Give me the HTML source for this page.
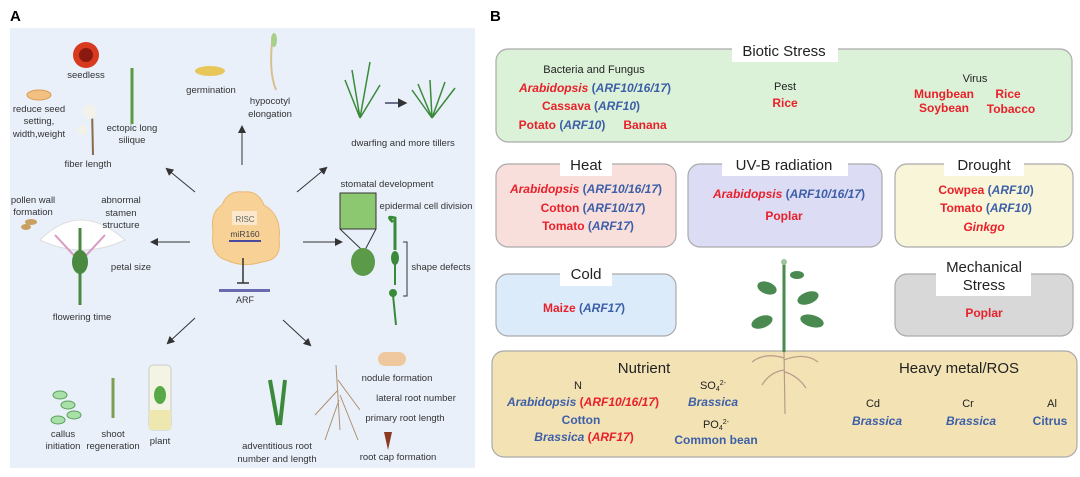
<!DOCTYPE html>
<html><head><meta charset="utf-8"><style>
html,body{margin:0;padding:0;background:#fff;}
svg{display:block;font-family:"Liberation Sans",sans-serif;}
.a{font-size:9.5px;fill:#333;text-anchor:middle;}
.t{font-size:15px;fill:#222;text-anchor:middle;}
.s{font-size:11px;fill:#222;text-anchor:middle;}
.r{font-size:12px;font-weight:bold;fill:#e8202a;text-anchor:middle;}
.b{font-size:12px;font-weight:bold;fill:#3c5fa8;text-anchor:middle;}
.bl{fill:#3c5fa8;}.rd{fill:#e8202a;}
</style></head><body>
<svg width="1080" height="477" viewBox="0 0 1080 477">
<defs><marker id="ar" markerWidth="8" markerHeight="8" refX="6" refY="4" orient="auto"><path d="M0,0 L8,4 L0,8 z" fill="#333"/></marker></defs>
<!-- Panel A -->
<text x="10" y="21" font-size="15" font-weight="bold">A</text>
<rect x="10" y="28" width="465" height="440" fill="#e9f0fa"/>
<!-- center -->
<path d="M222,205 Q228,190 243,192 Q258,190 264,205 Q282,215 279,240 Q282,260 262,262 Q243,268 226,260 Q210,255 213,232 Q210,212 222,205z" fill="#f7d196" stroke="#e8b870"/>
<rect x="232" y="211" width="25" height="14" fill="#fbe8cc"/>
<text x="245" y="222" font-size="8" fill="#666" text-anchor="middle">RISC</text>
<text x="245" y="237" font-size="8.5" fill="#444" text-anchor="middle">miR160</text>
<rect x="229" y="240" width="32" height="2" fill="#4a4aa0"/>
<line x1="243" y1="258" x2="243" y2="283" stroke="#333" stroke-width="1.5"/>
<line x1="237" y1="283" x2="249" y2="283" stroke="#333" stroke-width="1.5"/>
<rect x="219" y="289" width="51" height="3" fill="#6a6ab0"/>
<text x="245" y="303" font-size="9" fill="#333" text-anchor="middle">ARF</text>
<g stroke="#333" stroke-width="1" marker-end="url(#ar)">
<line x1="242" y1="165" x2="242" y2="127"/>
<line x1="195" y1="192" x2="167" y2="169"/>
<line x1="297" y1="192" x2="326" y2="168"/>
<line x1="190" y1="242" x2="152" y2="242"/>
<line x1="303" y1="242" x2="341" y2="242"/>
<line x1="195" y1="318" x2="168" y2="343"/>
<line x1="283" y1="320" x2="310" y2="345"/>
</g>
<!-- illustrations -->
<circle cx="86" cy="55" r="13" fill="#d83a20"/><circle cx="86" cy="55" r="7" fill="#8a1a10"/>
<ellipse cx="39" cy="95" rx="12" ry="5" fill="#f2c080" stroke="#d89a50"/>
<line x1="132" y1="68" x2="132" y2="124" stroke="#5a9a40" stroke-width="3"/>
<line x1="92" y1="108" x2="93" y2="155" stroke="#8a6a4a" stroke-width="2"/><circle cx="90" cy="112" r="7" fill="#f2f2ea"/><circle cx="82" cy="130" r="5" fill="#f2f2ea"/>
<ellipse cx="210" cy="71" rx="15" ry="5" fill="#e8c65a"/>
<path d="M273,35 Q268,70 276,90" stroke="#d8c090" stroke-width="2" fill="none"/><ellipse cx="274" cy="40" rx="3" ry="7" fill="#a8d08a"/>
<g stroke="#3a8a3a" stroke-width="1.5" fill="none"><path d="M360,118 L345,80 M360,118 L370,62 M360,118 L380,85 M360,118 L352,70"/><path d="M432,118 L412,90 M432,118 L430,80 M432,118 L455,88 M432,118 L445,82 M432,118 L418,84"/></g>
<line x1="385" y1="103" x2="405" y2="103" stroke="#224" stroke-width="1.2" marker-end="url(#ar)"/>
<rect x="340" y="193" width="36" height="36" fill="#8cc870" stroke="#333"/>
<path d="M340,229 L362,250 M376,229 L365,250" stroke="#333" fill="none"/>
<ellipse cx="363" cy="262" rx="12" ry="14" fill="#5a9a48"/>
<path d="M393,222 Q385,215 395,218 L395,250" stroke="#3a8a3a" stroke-width="3" fill="none"/>
<ellipse cx="395" cy="258" rx="4" ry="7" fill="#3a8a3a"/><line x1="395" y1="262" x2="395" y2="285" stroke="#3a8a3a" stroke-width="2"/>
<circle cx="393" cy="293" r="4" fill="#3a8a3a"/><line x1="393" y1="295" x2="396" y2="325" stroke="#3a8a3a" stroke-width="2"/>
<path d="M403,242 L407,242 L407,296 L403,296" stroke="#333" fill="none"/>
<path d="M40,240 Q80,200 125,240 Q82,260 40,240z" fill="#fff" stroke="#ddd"/>
<path d="M55,235 L80,262 L105,235" stroke="#d89ac0" fill="none" stroke-width="2"/>
<line x1="80" y1="228" x2="80" y2="305" stroke="#4a8a40" stroke-width="3"/><ellipse cx="80" cy="262" rx="8" ry="12" fill="#4a8a40"/>
<ellipse cx="31" cy="222" rx="6" ry="3" fill="#c8a060"/><ellipse cx="26" cy="227" rx="5" ry="3" fill="#c8a060"/>
<g fill="#a8e0a8" stroke="#5aa05a"><ellipse cx="60" cy="395" rx="7" ry="4"/><ellipse cx="68" cy="405" rx="7" ry="4"/><ellipse cx="74" cy="415" rx="7" ry="4"/><ellipse cx="58" cy="420" rx="7" ry="4"/></g>
<line x1="113" y1="378" x2="113" y2="418" stroke="#7aa050" stroke-width="3"/>
<rect x="149" y="365" width="22" height="65" rx="4" fill="#f4f4e4" stroke="#ccc"/><rect x="149" y="410" width="22" height="20" fill="#eee8b0"/><ellipse cx="160" cy="395" rx="6" ry="9" fill="#58a848"/>
<g stroke="#3a8a3a" stroke-width="4"><line x1="270" y1="380" x2="278" y2="425"/><line x1="285" y1="380" x2="280" y2="425"/></g>
<path d="M336,365 L340,430 M338,390 L315,415 M338,380 L360,410 M339,400 L325,440 M340,395 L358,440" stroke="#b09070" fill="none"/>
<rect x="378" y="352" width="28" height="14" rx="7" fill="#f0c8a0"/>
<path d="M384,432 L392,432 L388,450z" fill="#8a3a20"/>
<g class="a">
<text x="86" y="78">seedless</text>
<text x="39" y="112">reduce seed</text><text x="39" y="124">setting,</text><text x="39" y="137">width,weight</text>
<text x="132" y="131">ectopic long</text><text x="132" y="143">silique</text>
<text x="88" y="167">fiber length</text>
<text x="211" y="93">germination</text>
<text x="270" y="104">hypocotyl</text><text x="270" y="117">elongation</text>
<text x="403" y="146">dwarfing and more tillers</text>
<text x="387" y="187">stomatal development</text>
<text x="426" y="209">epidermal cell division</text>
<text x="441" y="270">shape defects</text>
<text x="33" y="203">pollen wall</text><text x="33" y="215">formation</text>
<text x="121" y="203">abnormal</text><text x="121" y="216">stamen</text><text x="121" y="228">structure</text>
<text x="131" y="270">petal size</text>
<text x="82" y="320">flowering time</text>
<text x="63" y="437">callus</text><text x="63" y="449">initiation</text>
<text x="113" y="437">shoot</text><text x="113" y="449">regeneration</text>
<text x="160" y="444">plant</text>
<text x="277" y="449">adventitious root</text><text x="277" y="462">number and length</text>
<text x="397" y="381">nodule formation</text>
<text x="416" y="401">lateral root number</text>
<text x="405" y="421">primary root length</text>
<text x="398" y="460">root cap formation</text>
</g>
<!-- Panel B -->
<text x="490" y="21" font-size="15" font-weight="bold">B</text>
<g stroke="#aaa" stroke-width="1.2">
<rect x="496" y="49" width="576" height="93" rx="12" fill="#dcf2d8"/>
<rect x="496" y="164" width="180" height="83" rx="12" fill="#f9dfdc"/>
<rect x="688" y="164" width="194" height="83" rx="12" fill="#dcdcf5"/>
<rect x="895" y="164" width="178" height="83" rx="12" fill="#f8f5d8"/>
<rect x="496" y="274" width="180" height="62" rx="12" fill="#dcebfa"/>
<rect x="895" y="274" width="178" height="62" rx="12" fill="#d8d8d8"/>
<rect x="492" y="351" width="585" height="106" rx="12" fill="#f3e2b4"/>
</g>
<rect x="732" y="43" width="106" height="19" fill="#fff"/>
<rect x="560" y="156" width="52" height="20" fill="#fff"/>
<rect x="722" y="156" width="126" height="20" fill="#fff"/>
<rect x="944" y="156" width="80" height="20" fill="#fff"/>
<rect x="560" y="266" width="52" height="20" fill="#fff"/>
<rect x="936" y="258" width="95" height="38" fill="#fff"/>
<text class="t" x="784" y="56">Biotic Stress</text>
<text class="t" x="586" y="170">Heat</text>
<text class="t" x="784" y="170">UV-B radiation</text>
<text class="t" x="984" y="170">Drought</text>
<text class="t" x="586" y="279">Cold</text>
<text class="t" x="984" y="272">Mechanical</text>
<text class="t" x="984" y="290">Stress</text>
<text class="s" x="594" y="73">Bacteria and Fungus</text>
<text class="b" x="595" y="92"><tspan class="rd" font-style="italic">Arabidopsis</tspan> (<tspan font-style="italic">ARF10/16/17</tspan>)</text>
<text class="b" x="591" y="110"><tspan class="rd">Cassava</tspan> (<tspan font-style="italic">ARF10</tspan>)</text>
<text class="b" x="562" y="129"><tspan class="rd">Potato</tspan> (<tspan font-style="italic">ARF10</tspan>)</text>
<text class="r" x="645" y="129">Banana</text>
<text class="s" x="785" y="90">Pest</text>
<text class="r" x="785" y="107">Rice</text>
<text class="s" x="975" y="82">Virus</text>
<text class="r" x="944" y="98">Mungbean</text><text class="r" x="1008" y="98">Rice</text>
<text class="r" x="944" y="112">Soybean</text><text class="r" x="1011" y="113">Tobacco</text>
<text class="b" x="586" y="193"><tspan class="rd" font-style="italic">Arabidopsis</tspan> (<tspan font-style="italic">ARF10/16/17</tspan>)</text>
<text class="b" x="593" y="212"><tspan class="rd">Cotton</tspan> (<tspan font-style="italic">ARF10/17</tspan>)</text>
<text class="b" x="588" y="230"><tspan class="rd">Tomato</tspan> (<tspan font-style="italic">ARF17</tspan>)</text>
<text class="b" x="789" y="198"><tspan class="rd" font-style="italic">Arabidopsis</tspan> (<tspan font-style="italic">ARF10/16/17</tspan>)</text>
<text class="r" x="784" y="220">Poplar</text>
<text class="b" x="986" y="194"><tspan class="rd">Cowpea</tspan> (<tspan font-style="italic">ARF10</tspan>)</text>
<text class="b" x="986" y="212"><tspan class="rd">Tomato</tspan> (<tspan font-style="italic">ARF10</tspan>)</text>
<text class="r" x="984" y="231" font-style="italic">Ginkgo</text>
<text class="b" x="584" y="312"><tspan class="rd">Maize</tspan> (<tspan font-style="italic">ARF17</tspan>)</text>
<text class="r" x="984" y="317">Poplar</text>
<!-- plant -->
<g stroke="#b89a8a" stroke-width="1.2" fill="none"><path d="M784,351 L785,414 M784,358 Q765,352 752,362 M784,360 Q805,352 818,362 M784,370 Q770,372 762,385 M785,372 Q798,376 806,388"/></g>
<line x1="784" y1="263" x2="784" y2="352" stroke="#4a8a50" stroke-width="3"/>
<circle cx="784" cy="262" r="3" fill="#9bc69b"/>
<g fill="#4a8a50"><ellipse cx="767" cy="288" rx="10" ry="6" transform="rotate(20 767 288)"/><ellipse cx="797" cy="275" rx="7" ry="4"/><ellipse cx="808" cy="298" rx="11" ry="6" transform="rotate(-20 808 298)"/><ellipse cx="762" cy="322" rx="11" ry="6" transform="rotate(-20 762 322)"/><ellipse cx="812" cy="321" rx="12" ry="6" transform="rotate(15 812 321)"/></g>
<text class="t" x="644" y="373">Nutrient</text>
<text class="t" x="959" y="373">Heavy metal/ROS</text>
<text class="s" x="578" y="389">N</text>
<text class="s" x="713" y="389">SO<tspan font-size="7" dy="2">4</tspan><tspan font-size="7" dy="-6">2-</tspan></text>
<text class="r" x="583" y="406"><tspan class="bl" font-style="italic">Arabidopsis</tspan> (<tspan font-style="italic">ARF10/16/17</tspan>)</text>
<text class="b" x="713" y="406" font-style="italic">Brassica</text>
<text class="b" x="581" y="424">Cotton</text>
<text class="s" x="716" y="428">PO<tspan font-size="7" dy="2">4</tspan><tspan font-size="7" dy="-6">2-</tspan></text>
<text class="r" x="584" y="441"><tspan class="bl" font-style="italic">Brassica</tspan> (<tspan font-style="italic">ARF17</tspan>)</text>
<text class="b" x="716" y="444">Common bean</text>
<text class="s" x="873" y="407">Cd</text><text class="b" x="877" y="425" font-style="italic">Brassica</text>
<text class="s" x="968" y="407">Cr</text><text class="b" x="971" y="425" font-style="italic">Brassica</text>
<text class="s" x="1052" y="407">Al</text><text class="b" x="1050" y="425">Citrus</text>
</svg>
</body></html>
